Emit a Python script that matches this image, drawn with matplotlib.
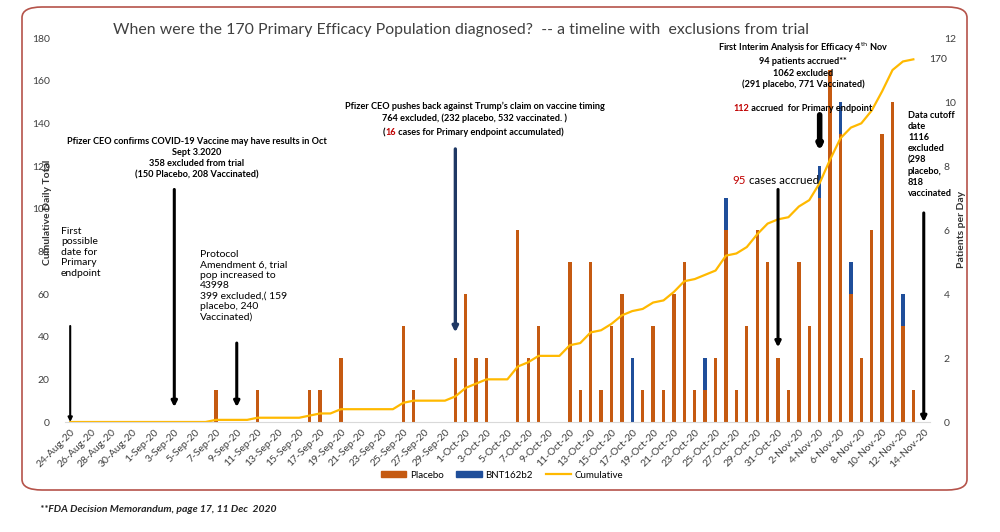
import numpy as np
import pandas as pd
import matplotlib
matplotlib.use("Agg")
import matplotlib.pyplot as plt
import matplotlib.dates as mdates
from matplotlib.patches import FancyBboxPatch, Patch
from matplotlib.lines import Line2D

plt.rcParams['font.family'] = ['Lato', 'DejaVu Sans']

# days with diagnosed cases
case_dates = ['2020-09-07', '2020-09-11', '2020-09-16', '2020-09-17', '2020-09-19',
              '2020-09-25', '2020-09-26', '2020-09-30', '2020-10-01', '2020-10-02',
              '2020-10-03', '2020-10-06', '2020-10-07', '2020-10-08', '2020-10-11',
              '2020-10-12', '2020-10-13', '2020-10-14', '2020-10-15', '2020-10-16',
              '2020-10-17', '2020-10-18', '2020-10-19', '2020-10-20', '2020-10-21',
              '2020-10-22', '2020-10-23', '2020-10-24', '2020-10-25', '2020-10-26',
              '2020-10-27', '2020-10-28', '2020-10-29', '2020-10-30', '2020-10-31',
              '2020-11-01', '2020-11-02', '2020-11-03', '2020-11-04', '2020-11-05',
              '2020-11-06', '2020-11-07', '2020-11-08', '2020-11-09', '2020-11-10',
              '2020-11-11', '2020-11-12', '2020-11-13']
placebo = [1, 1, 1, 1, 2, 3, 1, 2, 4, 2,
           2, 6, 2, 3, 5, 1, 5, 1, 3, 4,
           0, 1, 3, 1, 4, 5, 1, 1, 2, 6,
           1, 3, 6, 5, 2, 1, 5, 3, 7, 11,
           9, 4, 2, 6, 9, 10, 3, 1]
bnt = [0, 0, 0, 0, 0, 0, 0, 0, 0, 0,
       0, 0, 0, 0, 0, 0, 0, 0, 0, 0,
       2, 0, 0, 0, 0, 0, 0, 1, 0, 1,
       0, 0, 0, 0, 0, 0, 0, 0, 1, 0,
       1, 1, 0, 0, 0, 0, 1, 0]

axis_start, axis_end = '2020-08-24', '2020-11-14'
line_end = '2020-11-13'

days = pd.date_range(axis_start, axis_end, freq='D')
daily = pd.DataFrame({'placebo': placebo, 'bnt': bnt}, index=pd.to_datetime(case_dates))
daily = daily.reindex(days, fill_value=0)
cumulative = (daily['placebo'] + daily['bnt']).cumsum().loc[:line_end]

c_placebo = '#C55A11'
c_bnt = '#1F4E9A'
c_cum = '#FFB900'

fig = plt.figure(figsize=(10, 5.32), dpi=100)
ax = fig.add_axes([0.065, 1 - 422 / 532, 0.865, 384 / 532])
ax2 = ax.twinx()
ax.set_zorder(ax2.get_zorder() + 1)
ax.patch.set_visible(False)

w = 0.32
ax2.bar(days, daily['placebo'], width=w, color=c_placebo)
ax2.bar(days, daily['bnt'], width=w, bottom=daily['placebo'], color=c_bnt)
ax.plot(cumulative.index, cumulative.values, color=c_cum, lw=1.6)
ax.text(cumulative.index[-1] + pd.Timedelta(days=1.5), cumulative.values[-1], '170',
        fontsize=7.5, va='center', color='#333333')

x0 = mdates.date2num(pd.Timestamp(axis_start)) - 0.5
x1 = mdates.date2num(pd.Timestamp(axis_end)) + 0.6
ax.set_xlim(x0, x1)
ax.set_ylim(0, 180)
ax2.set_ylim(0, 12)
ax.set_yticks(np.arange(0, 181, 20))
ax2.set_yticks(np.arange(0, 13, 2))

ticks = days[::2]
ax.set_xticks(ticks)
ax.set_xticklabels([f"{d.day}-{d.strftime('%b')}-{d.strftime('%y')}" for d in ticks],
                   rotation=45, ha='right', rotation_mode='anchor', fontsize=6.8, color='#595959')
for a in (ax, ax2):
    for s in a.spines.values():
        s.set_visible(False)
    a.tick_params(length=0, labelsize=7.5, labelcolor='#404040')
ax.spines['bottom'].set_visible(True)
ax.spines['bottom'].set_color('#D9D9D9')
ax.tick_params(axis='y', pad=11)
ax.tick_params(axis='x', pad=4)
ax2.tick_params(axis='y', pad=10)

fig.text(0.048, 0.60, 'Cumulative Daily Total', rotation=90, ha='center', va='center',
         fontsize=7.5, weight='bold', color='#333333')
fig.text(0.962, 0.568, 'Patients per Day', rotation=90, ha='center', va='center',
         fontsize=7.5, weight='bold', color='#333333')

fig.text(0.461, 1 - 30 / 532, 'When were the 170 Primary Efficacy Population diagnosed?  -- a timeline with  exclusions from trial',
         ha='center', va='center', fontsize=11.4, weight='normal', color='#404040')


def d(s):
    return mdates.date2num(pd.Timestamp(s))


def arrow(date, y_from, y_to, lw=2.2, color='black', ms=8):
    ax.annotate('', xy=(d(date), y_to), xytext=(d(date), y_from),
                arrowprops=dict(arrowstyle='-|>', lw=lw, color=color, mutation_scale=ms,
                                shrinkA=0, shrinkB=0))


arrow('2020-08-24', 45, 0, lw=1.5, ms=6)
arrow('2020-09-03', 109, 7)
arrow('2020-09-09', 37, 7)
arrow('2020-09-30', 128, 42, lw=2.4, color='#1F3864')
arrow('2020-10-31', 109, 35)
arrow('2020-11-04', 144, 127, lw=4, ms=6)
arrow('2020-11-14', 98, 0)


def fx(px):
    return px / 1000


def fy(py):
    return 1 - py / 532


reg = dict(fontsize=7.5, color='black', linespacing=1.2)
bold = dict(fontsize=6.6, color='black', linespacing=1.3, weight='bold')
fig.text(fx(61), fy(227), 'First\npossible\ndate for\nPrimary\nendpoint', ha='left', va='top', **reg)
fig.text(fx(197), fy(137), 'Pfizer CEO confirms COVID-19 Vaccine may have results in Oct\nSept 3.2020\n'
         '358 excluded from trial\n(150 Placebo, 208 Vaccinated)', ha='center', va='top', **bold)
fig.text(fx(200), fy(250), 'Protocol\nAmendment 6, trial\npop increased to\n43998\n399 excluded,( 159\n'
         'placebo, 240\nVaccinated)', ha='left', va='top', **reg)
fig.text(fx(475), fy(102), 'Pfizer CEO pushes back against Trump\u2019s claim on vaccine timing\n'
         '764 excluded, (232 placebo, 532 vaccinated. )', ha='center', va='top', **bold)
fig.text(fx(803), fy(41), 'First Interim Analysis for Efficacy 4$^{\\mathrm{th}}$ Nov\n94 patients accrued**\n'
         '1062 excluded\n(291 placebo, 771 Vaccinated)', ha='center', va='top', **bold)
fig.text(fx(908), fy(111), 'Data cutoff\ndate\n1116\nexcluded\n(298\nplacebo,\n818\nvaccinated',
         ha='left', va='top', **bold)


def chain(x, y, parts, **kw):
    t = fig.text(x, y, parts[0][0], color=parts[0][1], ha='left', va='bottom', **kw)
    for s, c in parts[1:]:
        t = ax.annotate(s, xy=(1, 0), xycoords=t, ha='left', va='bottom', color=c,
                        annotation_clip=False, **kw)


red = '#C00000'
chain(fx(383), fy(137), [('(', 'black'), ('16', red), (' cases for Primary endpoint accumulated)', 'black')],
      fontsize=6.6, weight='bold')
chain(fx(733), fy(113), [('112', red), (' accrued  for Primary endpoint', 'black')],
      fontsize=6.6, weight='bold')
chain(fx(732), fy(186), [('95', red), (' cases accrued', 'black')], fontsize=8.3)

handles = [Patch(color=c_placebo, label='Placebo'), Patch(color=c_bnt, label='BNT162b2'),
           Line2D([], [], color=c_cum, lw=1.6, label='Cumulative')]
fig.legend(handles=handles, loc='center', bbox_to_anchor=(0.502, 1 - 475 / 532), ncol=3,
           frameon=False, fontsize=7, handlelength=2.6, handleheight=0.5, columnspacing=1.3,
           handletextpad=0.4)

fig.patches.append(FancyBboxPatch((0.022, 1 - 490 / 532), 0.945, 483 / 532,
                                  boxstyle='round,pad=0,rounding_size=0.02',
                                  transform=fig.transFigure, fill=False,
                                  edgecolor='#B5534A', lw=1.2))

fig.text(0.04, 1 - 509 / 532, '**FDA Decision Memorandum, page 17, 11 Dec  2020',
         style='italic', weight='bold', fontsize=7.5, va='center', color='#222222')

fig.savefig('out.png', dpi=100)
